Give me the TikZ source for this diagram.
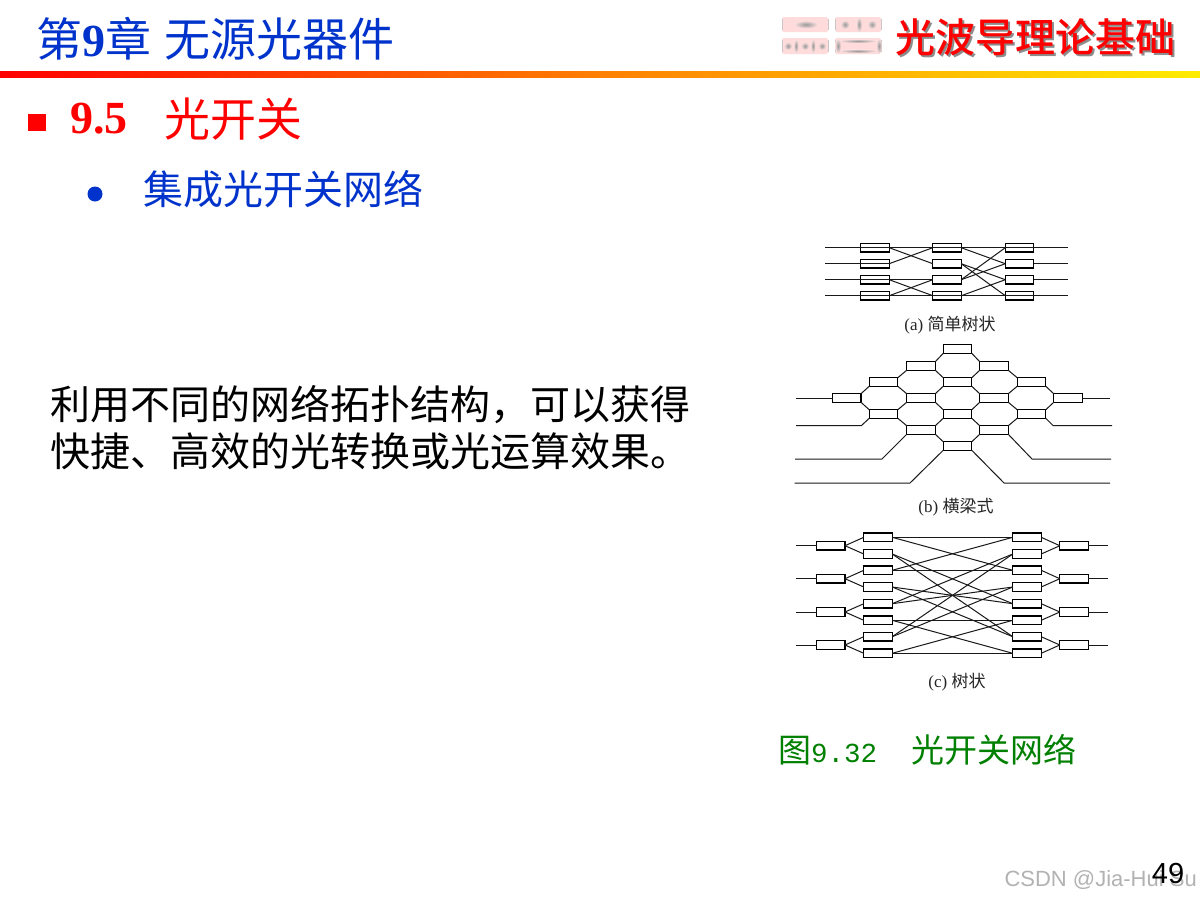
\documentclass[tikz,border=0pt]{standalone}
\usepackage{fontspec}
\setmainfont{Liberation Serif}
\setmonofont{Liberation Mono}
\newfontfamily\cjk{Noto Sans CJK SC}
\newfontfamily\cjkb{Noto Sans CJK SC Medium}
\newfontfamily\arial{Liberation Sans}
\usetikzlibrary{calc}
\definecolor{titleblue}{RGB}{0,51,204}
\definecolor{figgreen}{RGB}{0,128,0}
\tikzset{
  sw/.style={draw=black,line width=1.3pt,fill=white,minimum width=28.4pt,minimum height=8.4pt,inner sep=0pt,outer sep=0pt},
  link/.style={draw=black!90,line width=1pt},
  captext/.style={inner sep=0pt,font=\fontsize{17}{17}\selectfont,text=black!85},
  pat/.style={inner color=black!40,outer color=red!12},
}
\begin{document}
\begin{tikzpicture}[x=1pt,y=-1pt]
\useasboundingbox (0,0) rectangle (1200,900);
\fill[white] (0,0) rectangle (1200,900);
% header
\node[anchor=west,inner sep=0pt,text=titleblue,font=\fontsize{46}{46}\selectfont] (title) at (36,39) {{\cjk 第}\textbf{9}{\cjk 章}\hspace{13pt}{\cjk 无源光器件}};
\shade[left color=red,right color=orange] (0,71.5) rectangle (600,77);
\shade[left color=orange,right color=yellow!85!orange] (600,71.5) rectangle (1200,77);
% logo
\foreach \x/\y/\w/\h in {782/17/46/15, 835/17/46/15, 782/38/46/16, 835/38/46/16}{
  \fill[red!14,rounded corners=2pt] (\x,\y) rectangle ++(\w,\h);
  \draw[black!22,line width=1pt,rounded corners=2pt] (\x,\y+2) -- (\x,\y+\h-2);
  \draw[black!22,line width=1pt,rounded corners=2pt] (\x+\w,\y+2) -- (\x+\w,\y+\h-2);
}
\shade[pat] (806,24.5) ellipse (12 and 4);
\shade[pat] (859,24.5) ellipse (3 and 7.5);
\shade[pat] (845,24.5) circle (4.5);
\shade[pat] (872,24.5) circle (4.5);
\shade[pat] (788,46) circle (4);
\shade[pat] (805,46) circle (4);
\shade[pat] (822,46) circle (4);
\shade[pat] (796,46) ellipse (2.5 and 7);
\shade[pat] (813,46) ellipse (2.5 and 7);
\shade[pat] (858,41) ellipse (20 and 2);
\shade[pat] (858,51) ellipse (20 and 2);
\shade[pat] (838,46) ellipse (3 and 7.5);
\shade[pat] (879,46) ellipse (3 and 7.5);
\node[anchor=west,inner sep=0pt,text=black!45,font=\fontsize{40}{40}\selectfont\cjkb] (brandsh) at (896.8,38.8) {光波导理论基础};
\node[anchor=west,inner sep=0pt,text=red,font=\fontsize{40}{40}\selectfont\cjkb] (brand) at (895.5,37.5) {光波导理论基础};
% section
\fill[red] (28,114) rectangle (46,131);
\node[anchor=west,inner sep=0pt,text=red,font=\fontsize{46}{46}\selectfont] (sec) at (70,119) {\textbf{9.5}};
\node[anchor=west,inner sep=0pt,text=red,font=\fontsize{46}{46}\selectfont\cjk] (sect) at (164,119) {光开关};
\fill[titleblue] (95,194) circle (7.5);
\node[anchor=west,inner sep=0pt,text=titleblue,font=\fontsize{40}{40}\selectfont\cjk] (sub) at (143,189) {集成光开关网络};
% body
\node[anchor=west,inner sep=0pt,font=\fontsize{40}{40}\selectfont\cjk] (b1t) at (50,405) {利用不同的网络拓扑结构，可以获得};
\node[anchor=west,inner sep=0pt,font=\fontsize{40}{40}\selectfont\cjk] (b2t) at (50,451) {快捷、高效的光转换或光运算效果。};
% (a)
\foreach \r/\y in {1/247.7,2/263.7,3/279.7,4/295.7}{
  \coordinate (aL\r) at (825,\y);
  \coordinate (aR\r) at (1068,\y);
  \foreach \c/\x in {1/875,2/947,3/1019.5}{
    \node[sw] (a\c\r) at (\x,\y) {};
  }
}
\draw[link] (aL1) -- (aR1);
\draw[link] (aL4) -- (aR4);
\draw[link] (aL2) -- (a12.east);
\draw[link] (aL3) -- (a23.west);
\draw[link] (a32.east) -- (aR2);
\draw[link] (a33.east) -- (aR3);
\foreach \p/\q in {a11/a22,a12/a21,a13/a24,a14/a23,a21/a32,a22/a33,a22/a34,a23/a31,a23/a32,a24/a33}{
  \draw[link] (\p.east) -- (\q.west);
}
\node[captext] (capa) at (950,325) {(a) {\cjk 简单树状}};
% (b)
\foreach \n/\x/\y in {
 b1/846.7/398,
 b2/883.5/382, b3/883.5/414,
 b4/921/366, b5/921/398, b6/921/430,
 b7/957.5/349, b8/957.5/382, b9/957.5/414, b10/957.5/446,
 b11/994/366, b12/994/398, b13/994/430,
 b14/1031.5/382, b15/1031.5/414,
 b16/1068/398}{
  \node[sw] (\n) at (\x,\y) {};
}
\foreach \p/\q in {b1/b2,b3/b5,b2/b4,b5/b8,b4/b7,b6/b9,b9/b12,b8/b11,b10/b13,b12/b14,b13/b15,b15/b16}{
  \draw[link] (\p.north east) -- (\q.south west);
}
\foreach \p/\q in {b1/b3,b2/b5,b3/b6,b4/b8,b5/b9,b6/b10,b7/b11,b8/b12,b9/b13,b11/b14,b12/b15,b14/b16}{
  \draw[link] (\p.south east) -- (\q.north west);
}
\coordinate (bl1) at (795.5,398); \coordinate (br1) at (1110,398);
\coordinate (bl2) at (796,425.5); \coordinate (blk2) at (861.5,425.5);
\coordinate (bl3) at (795,459); \coordinate (blk3) at (882,459);
\coordinate (bl4) at (794.5,483); \coordinate (blk4) at (910,483);
\coordinate (br2) at (1112,425.5); \coordinate (brk2) at (1053,425.5);
\coordinate (br3) at (1111,459); \coordinate (brk3) at (1032,459);
\coordinate (br4) at (1110,483); \coordinate (brk4) at (1004,483);
\draw[link] (bl1) -- (b1.west);
\draw[link] (b16.east) -- (br1);
\draw[link] (bl2) -- (blk2) -- (b3.south west);
\draw[link] (bl3) -- (blk3) -- (b6.south west);
\draw[link] (bl4) -- (blk4) -- (b10.south west);
\draw[link] (br2) -- (brk2) -- (b15.south east);
\draw[link] (br3) -- (brk3) -- (b13.south east);
\draw[link] (br4) -- (brk4) -- (b10.south east);
\node[captext] (capb) at (956,507) {(b) {\cjk 横梁式}};
% (c)
\foreach \i/\y in {1/545.7,2/578.7,3/612,4/645}{
  \node[sw] (ca\i) at (830.8,\y) {};
  \node[sw] (cd\i) at (1074,\y) {};
  \coordinate (cin\i) at (796,\y);
  \coordinate (cout\i) at (1108,\y);
  \draw[link] (cin\i) -- (ca\i);
  \draw[link] (cd\i) -- (cout\i);
}
\foreach \i/\y in {1/537.3,2/554,3/570.3,4/587,5/603.7,6/620.3,7/636.7,8/653.3}{
  \node[sw] (cb\i) at (878,\y) {};
  \node[sw] (cc\i) at (1027,\y) {};
}
\foreach \a/\b in {1/1,1/2,2/3,2/4,3/5,3/6,4/7,4/8}{
  \draw[link] (ca\a.east) -- (cb\b.west);
  \draw[link] (cd\a.west) -- (cc\b.east);
}
\foreach \p/\q in {1/1,1/3,2/5,2/7,3/1,3/3,4/5,4/7,5/2,5/4,6/6,6/8,7/2,7/4,8/6,8/8}{
  \draw[link] (cb\p.east) -- (cc\q.west);
}
\node[captext] (capc) at (957,682) {(c) {\cjk 树状}};
% fig caption
\node[anchor=west,inner sep=0pt,text=figgreen,font=\fontsize{33}{33}\selectfont] (fig) at (778,750) {{\cjk 图}{\fontsize{27.5}{27.5}\selectfont\ttfamily 9.32}\hspace{34pt}{\cjk 光开关网络}};
% page no
\node[anchor=east,inner sep=0pt,text=black!30,font=\fontsize{22}{22}\selectfont\arial] (wm) at (1197,880) {CSDN @Jia-Hui Su};
\node[anchor=center,inner sep=0pt,font=\fontsize{29}{29}\selectfont\arial] (page) at (1168,874) {49};
\end{tikzpicture}
\end{document}
